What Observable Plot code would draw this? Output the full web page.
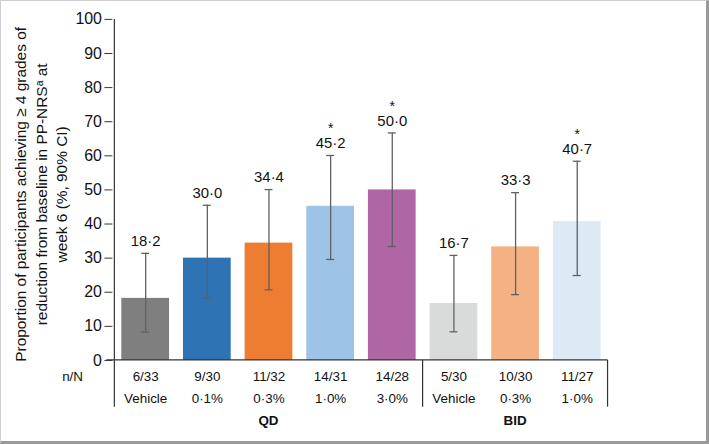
<!DOCTYPE html>
<html>
<head>
<meta charset="utf-8">
<script src="https://cdn.jsdelivr.net/npm/d3@7"></script>
<script src="https://cdn.jsdelivr.net/npm/@observablehq/plot@0.6"></script>
<style>
  html, body { margin: 0; padding: 0; background: #fff; }
  #frame {
    position: relative; width: 709px; height: 444px; box-sizing: border-box;
    border-left: 1px solid #cfcfcf; border-top: 1px solid #cfcfcf;
    border-right: 3px solid #9a9a9a; border-bottom: 3px solid #9a9a9a;
    overflow: hidden;
  }
  #chart { position: absolute; left: -1px; top: -1px; }
  svg { font-family: "Liberation Sans", Arial, sans-serif; }
</style>
</head>
<body>
<div id="frame"><div id="chart"></div></div>
<script>
// ---- data ----
const keys = ["QD Vehicle", "QD 0.1", "QD 0.3", "QD 1.0", "QD 3.0", "BID Vehicle", "BID 0.3", "BID 1.0"];
const doseLabels = ["Vehicle", "0·1%", "0·3%", "1·0%", "3·0%", "Vehicle", "0·3%", "1·0%"];
const groups = ["QD", "QD", "QD", "QD", "QD", "BID", "BID", "BID"];
const nN = ["6/33", "9/30", "11/32", "14/31", "14/28", "5/30", "10/30", "11/27"];
const values = [18.2, 30.0, 34.4, 45.2, 50.0, 16.7, 33.3, 40.7];
const valueLabels = ["18·2", "30·0", "34·4", "45·2", "50·0", "16·7", "33·3", "40·7"];
const ciLow = [8.3, 18.3, 20.7, 29.6, 33.4, 8.4, 19.3, 24.9];
const ciHigh = [31.4, 45.5, 50.1, 60.1, 66.7, 30.8, 49.2, 58.4];
const significant = [false, false, false, true, true, false, false, true];
const colors = ["#7f7f7f", "#2e74b5", "#ed7d31", "#9dc3e6", "#b066a5", "#d9dbda", "#f4b183", "#dde9f5"];
const yTicks = [0, 10, 20, 30, 40, 50, 60, 70, 80, 90, 100];
const groupNames = ["QD", "BID"];
const yTitle = ["Proportion of participants achieving ≥ 4 grades of", "reduction from baseline in PP-NRSᵃ at", "week 6 (%, 90% CI)"];

const rows = keys.map((k, i) => ({
  key: k, dose: doseLabels[i], group: groups[i], n: nN[i], value: values[i],
  label: valueLabels[i], lo: ciLow[i], hi: ciHigh[i], sig: significant[i], color: colors[i]
}));

const W = 710, H = 445;
const plot = Plot.plot({
  width: W, height: H,
  marginLeft: 113, marginRight: 97, marginTop: 19, marginBottom: 83,
  style: { fontFamily: "Liberation Sans, Arial, sans-serif", fontSize: "15px", color: "#111", background: "transparent" },
  x: { domain: keys, paddingInner: 0.23, paddingOuter: 0.115, axis: null },
  y: { domain: [0, 100], ticks: yTicks, label: null },
  marks: [
    Plot.barY(rows, { x: "key", y: "value", fill: "color" }),
    Plot.ruleX(rows, { x: "key", y1: "lo", y2: "hi", stroke: "#606060", strokeWidth: 1.3 }),
    Plot.tickY(rows, { x: "key", y: "lo", stroke: "#606060", strokeWidth: 1.3, insetLeft: 20, insetRight: 20 }),
    Plot.tickY(rows, { x: "key", y: "hi", stroke: "#606060", strokeWidth: 1.3, insetLeft: 20, insetRight: 20 }),
    Plot.text(rows, { x: "key", y: "hi", text: "label", dy: -12, fontSize: 15, fill: "#111" }),
    Plot.text(rows.filter(d => d.sig), { x: "key", y: "hi", text: () => "*", dy: -27, fontSize: 14, fill: "#111" }),
    Plot.axisY({ ticks: yTicks, tickSize: 8, tickFormat: () => "", label: null, stroke: "#333" }),
    Plot.text(yTicks, { y: d => d, text: d => String(d), frameAnchor: "left", textAnchor: "end", dx: -11, fontSize: 16, fill: "#111" }),
    // table rows
    Plot.text(rows, { x: "key", text: "n", frameAnchor: "bottom", lineAnchor: "middle", dy: 16, fontSize: 13.5, fill: "#111" }),
    Plot.text(rows, { x: "key", text: "dose", frameAnchor: "bottom", lineAnchor: "middle", dy: 38, fontSize: 13.5, fill: "#111" }),
    Plot.text(["n/N"], { text: d => d, frameAnchor: "bottom-left", lineAnchor: "middle", dx: -51, dy: 16, fontSize: 13.5, fill: "#111" })
  ]
});

// Table lines and group labels, placed from the x scale
const xs = plot.scale("x");
const ys = plot.scale("y");
const bw = xs.bandwidth, step = xs.step;
const svg = d3.select(plot);
const y0 = ys.apply(0);
const yTop = ys.apply(100);
const leftEdge = xs.apply(keys[0]) - (step - bw) / 2;
const rightEdge = xs.apply(keys[keys.length - 1]) + bw + (step - bw) / 2;
const sepIndex = groups.indexOf("BID");
const sepX = xs.apply(keys[sepIndex]) - (step - bw) / 2;
const lineBottom = y0 + 47;
const g = svg.append("g").attr("stroke", "#333").attr("stroke-width", 1.2);
// y axis line
g.append("line").attr("x1", leftEdge).attr("x2", leftEdge).attr("y1", yTop).attr("y2", lineBottom);
[sepX, rightEdge].forEach(x => {
  g.append("line").attr("x1", x).attr("x2", x).attr("y1", y0).attr("y2", lineBottom);
});
// baseline across full range
g.append("line").attr("x1", leftEdge - 8).attr("x2", rightEdge).attr("y1", y0).attr("y2", y0);

const gt = svg.append("g").attr("font-size", 13.5).attr("font-weight", "bold").attr("text-anchor", "middle").attr("fill", "#111");
groupNames.forEach(name => {
  const idx = keys.filter((k, i) => groups[i] === name);
  const x1 = xs.apply(idx[0]) - (step - bw) / 2;
  const x2 = xs.apply(idx[idx.length - 1]) + bw + (step - bw) / 2;
  gt.append("text").attr("x", (x1 + x2) / 2).attr("y", y0 + 61).attr("dy", "0.35em").text(name);
});

// y axis title (three lines, rotated)
const yMid = (y0 + yTop) / 2 + 5;
const ytg = svg.append("g").attr("font-size", 15.5).attr("text-anchor", "middle").attr("fill", "#111")
  .attr("transform", `translate(0,${yMid}) rotate(-90)`);
yTitle.forEach((line, i) => {
  ytg.append("text").attr("x", 0).attr("y", 21 + i * 20.5).attr("dy", "0.35em").text(line);
});

document.getElementById("chart").appendChild(plot);
</script>
</body>
</html>
